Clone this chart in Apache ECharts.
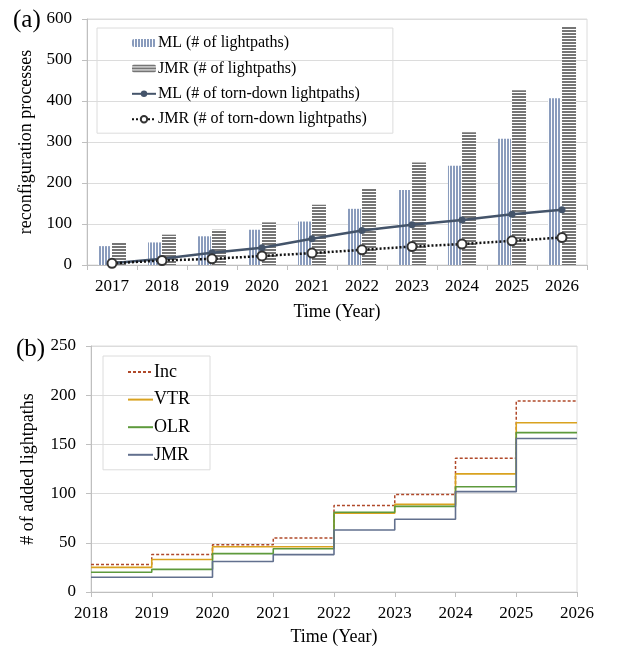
<!DOCTYPE html>
<html>
<head>
<meta charset="utf-8">
<script src="https://cdn.jsdelivr.net/npm/echarts@6/dist/echarts.min.js"></script>
<style>
html,body{margin:0;padding:0;background:#fff;}
#chart{width:631px;height:652px;}
</style>
</head>
<body>
<div id="chart"></div>
<script>
// ---- Data: panel (a) ----
const years = ['2017','2018','2019','2020','2021','2022','2023','2024','2025','2026'];
const mlLightpaths = [46, 55, 70, 86, 106, 137, 183, 242, 308, 407];
const jmrLightpaths = [56, 74, 86, 104, 147, 187, 250, 324, 426, 581];
const mlTornDown = [4, 15, 30, 42, 64, 84, 98, 110, 124, 135];
const jmrTornDown = [4, 11, 15, 22, 29, 37, 45, 51, 59, 67];

// ---- Data: panel (b) ----
const stepYears = [2018, 2019, 2020, 2021, 2022, 2023, 2024, 2025, 2026];
const incAdded = [28, 38, 48, 55, 88, 99, 136, 194];
const vtrAdded = [25, 33, 46, 46, 80, 89, 120, 172];
const olrAdded = [20, 23, 39, 44, 81, 87, 107, 162];
const jmrAdded = [15, 15, 31, 38, 63, 74, 102, 156];

function stepData(vals) {
  // each value holds from its year to the next; last value held to the end year
  const out = vals.map((v, i) => [stepYears[i], v]);
  out.push([stepYears[stepYears.length - 1], vals[vals.length - 1]]);
  return out;
}

function stripePattern(color, vertical) {
  const c = document.createElement('canvas');
  c.width = 3; c.height = 3;
  const ctx = c.getContext('2d');
  ctx.fillStyle = '#ffffff';
  ctx.fillRect(0, 0, 3, 3);
  ctx.fillStyle = color;
  if (vertical) ctx.fillRect(0, 0, 2, 3);
  else ctx.fillRect(0, 0, 3, 2);
  return { image: c, repeat: 'repeat' };
}

const FONT = 'Liberation Serif';
const gridColor = '#dcdcdc';
const axisColor = '#bfbfbf';

const chart = echarts.init(document.getElementById('chart'), null, { renderer: 'canvas' });

const option = {
  backgroundColor: '#fff',
  animation: false,
  textStyle: { fontFamily: FONT, color: '#000' },
  title: [
    { text: '(a)', left: 8, top: 3, textStyle: { fontFamily: FONT, fontSize: 25, fontWeight: 'normal', color: '#000' } },
    { text: '(b)', left: 11, top: 332, textStyle: { fontFamily: FONT, fontSize: 25, fontWeight: 'normal', color: '#000' } }
  ],
  grid: [
    { left: 87, top: 19, width: 500, height: 246, show: true, borderColor: gridColor, borderWidth: 1, containLabel: false },
    { left: 91, top: 346, width: 486, height: 246, show: true, borderColor: gridColor, borderWidth: 1, containLabel: false }
  ],
  legend: [
    {
      data: ['ML (# of lightpaths)', 'JMR (# of lightpaths)', 'ML (# of torn-down lightpaths)', 'JMR (# of torn-down lightpaths)'],
      orient: 'vertical', left: 97, top: 28,
      itemWidth: 24, itemHeight: 8, itemGap: 9.4,
      padding: [7, 26, 6, 34],
      borderColor: gridColor, borderWidth: 1,
      textStyle: { fontFamily: FONT, fontSize: 16, color: '#000', padding: [0, 0, 0, -3] }
    },
    {
      data: ['Inc', 'VTR', 'OLR', 'JMR'],
      orient: 'vertical', left: 103, top: 356,
      itemWidth: 25, itemHeight: 14, itemGap: 9.6,
      padding: [7, 20, 6, 24],
      borderColor: gridColor, borderWidth: 1,
      itemStyle: { opacity: 0 },
      textStyle: { fontFamily: FONT, fontSize: 18, color: '#000', padding: [0, 0, 0, -4] }
    }
  ],
  xAxis: [
    {
      gridIndex: 0, type: 'category', data: years, boundaryGap: true,
      axisLine: { lineStyle: { color: axisColor } },
      axisTick: { show: true, length: 5, lineStyle: { color: axisColor } },
      axisLabel: { fontFamily: FONT, fontSize: 17, color: '#000', margin: 13 },
      name: 'Time (Year)', nameLocation: 'middle', nameGap: 38,
      nameTextStyle: { fontFamily: FONT, fontSize: 18, color: '#000' }
    },
    {
      gridIndex: 1, type: 'value', min: 2018, max: 2026, interval: 1,
      axisLine: { lineStyle: { color: axisColor } },
      axisTick: { show: true, length: 5, lineStyle: { color: axisColor } },
      splitLine: { show: false },
      axisLabel: { fontFamily: FONT, fontSize: 17, color: '#000', margin: 13, formatter: v => String(v) },
      name: 'Time (Year)', nameLocation: 'middle', nameGap: 36,
      nameTextStyle: { fontFamily: FONT, fontSize: 18, color: '#000' }
    }
  ],
  yAxis: [
    {
      gridIndex: 0, type: 'value', min: 0, max: 600, interval: 100,
      axisLine: { show: true, lineStyle: { color: axisColor } },
      axisTick: { show: true, length: 5, lineStyle: { color: axisColor } },
      splitLine: { lineStyle: { color: gridColor } },
      axisLabel: { fontFamily: FONT, fontSize: 17, color: '#000', margin: 15 },
      name: 'reconfiguration processes', nameLocation: 'middle', nameGap: 52,
      nameTextStyle: { fontFamily: FONT, fontSize: 18, color: '#000' }
    },
    {
      gridIndex: 1, type: 'value', min: 0, max: 250, interval: 50,
      axisLine: { show: true, lineStyle: { color: axisColor } },
      axisTick: { show: true, length: 5, lineStyle: { color: axisColor } },
      splitLine: { lineStyle: { color: gridColor } },
      axisLabel: { fontFamily: FONT, fontSize: 17, color: '#000', margin: 15 },
      name: '# of added lightpaths', nameLocation: 'middle', nameGap: 54,
      nameTextStyle: { fontFamily: FONT, fontSize: 18, color: '#000' }
    }
  ],
  series: [
    {
      name: 'ML (# of lightpaths)', type: 'bar', xAxisIndex: 0, yAxisIndex: 0,
      data: mlLightpaths, barWidth: 13, barGap: '8%',
      itemStyle: { color: stripePattern('#8a9cbd', true) }
    },
    {
      name: 'JMR (# of lightpaths)', type: 'bar', xAxisIndex: 0, yAxisIndex: 0,
      data: jmrLightpaths, barWidth: 14, barGap: '8%',
      itemStyle: { color: stripePattern('#757575', false) }
    },
    {
      name: 'ML (# of torn-down lightpaths)', type: 'line', xAxisIndex: 0, yAxisIndex: 0,
      data: mlTornDown, symbol: 'circle', symbolSize: 7,
      lineStyle: { color: '#44546a', width: 2.5 },
      itemStyle: { color: '#44546a' }
    },
    {
      name: 'JMR (# of torn-down lightpaths)', type: 'line', xAxisIndex: 0, yAxisIndex: 0,
      data: jmrTornDown, symbol: 'circle', symbolSize: 9,
      lineStyle: { color: '#111', width: 2.5, type: [2, 2] },
      itemStyle: { color: '#fff', borderColor: '#333', borderWidth: 2 }
    },
    {
      name: 'Inc', type: 'line', step: 'end', xAxisIndex: 1, yAxisIndex: 1,
      data: stepData(incAdded), symbol: 'none',
      lineStyle: { color: '#b0492a', width: 1.5, type: [3, 2] },
      itemStyle: { color: '#b0492a' }
    },
    {
      name: 'VTR', type: 'line', step: 'end', xAxisIndex: 1, yAxisIndex: 1,
      data: stepData(vtrAdded), symbol: 'none',
      lineStyle: { color: '#d9a21f', width: 1.6 },
      itemStyle: { color: '#d9a21f' }
    },
    {
      name: 'OLR', type: 'line', step: 'end', xAxisIndex: 1, yAxisIndex: 1,
      data: stepData(olrAdded), symbol: 'none',
      lineStyle: { color: '#5e9a3c', width: 1.6 },
      itemStyle: { color: '#5e9a3c' }
    },
    {
      name: 'JMR', type: 'line', step: 'end', xAxisIndex: 1, yAxisIndex: 1,
      data: stepData(jmrAdded), symbol: 'none',
      lineStyle: { color: '#62708e', width: 1.6 },
      itemStyle: { color: '#62708e' }
    }
  ]
};

chart.setOption(option);
</script>
</body>
</html>
